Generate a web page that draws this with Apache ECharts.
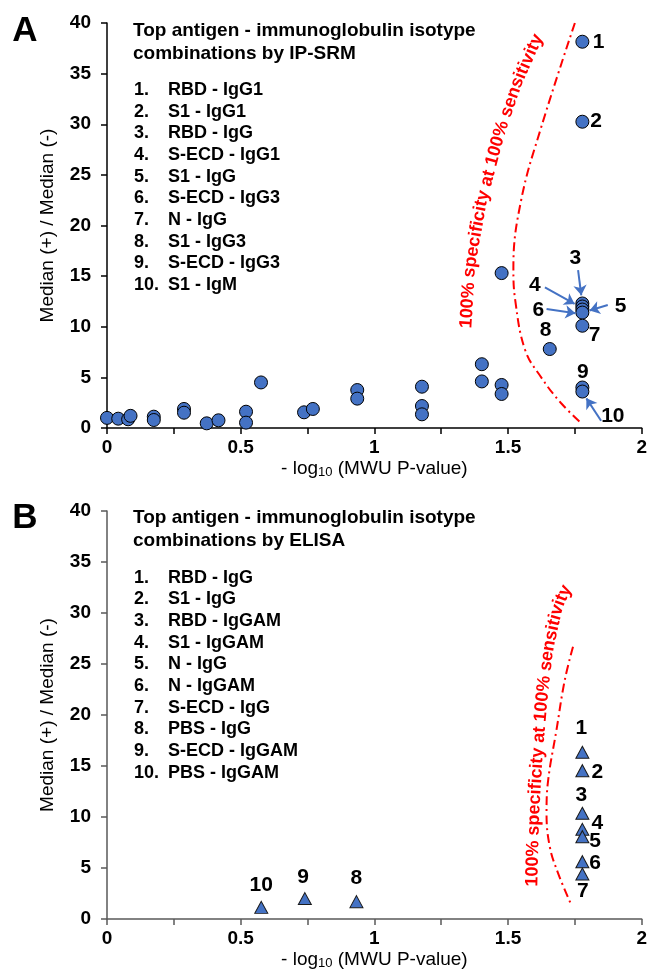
<!DOCTYPE html>
<html>
<head>
<meta charset="utf-8">
<script src="https://cdn.jsdelivr.net/npm/echarts@6/dist/echarts.min.js"></script>
<style>
  html, body { margin: 0; padding: 0; background: #fff; }
  #chart { width: 650px; height: 971px; }
</style>
</head>
<body>
<div id="chart"></div>
<script>
// ---- data ----
// panel A: IP-SRM, circles
var srmX = [0, 0.042, 0.079, 0.088, 0.175, 0.175, 0.288, 0.288, 0.373, 0.417, 0.52, 0.52, 0.576,
  0.737, 0.77, 0.936, 0.936, 1.178, 1.178, 1.178, 1.402, 1.402, 1.476, 1.476, 1.476, 1.656,
  1.778, 1.778, 1.778, 1.778, 1.778, 1.778, 1.778, 1.778, 1.778];
var srmY = [1.0, 0.92, 0.86, 1.2, 1.12, 0.79, 1.88, 1.51, 0.46, 0.76, 1.61, 0.53, 4.5,
  1.55, 1.88, 3.75, 2.9, 4.08, 2.17, 1.35, 6.3, 4.6, 15.3, 4.25, 3.36, 7.8,
  38.15, 30.25, 12.3, 12.0, 11.7, 11.4, 10.1, 4.0, 3.6];
var srmNames = ["RBD - IgG1", "S1 - IgG1", "RBD - IgG", "S-ECD - IgG1", "S1 - IgG",
  "S-ECD - IgG3", "N - IgG", "S1 - IgG3", "S-ECD - IgG3", "S1 - IgM"];
// number tags beside the top ten
var srmTagX = [1.839, 1.829, 1.752, 1.600, 1.921, 1.613, 1.824, 1.640, 1.780, 1.892];
var srmTagY = [38.15, 30.35, 16.76, 14.12, 12.05, 11.65, 9.19, 9.68, 5.56, 1.12];
// arrows [x1, y1, x2, y2]
var srmArrows = [
  [1.762, 15.6, 1.774, 13.1],
  [1.638, 13.9, 1.749, 12.25],
  [1.644, 11.75, 1.752, 11.33],
  [1.873, 12.15, 1.805, 11.6],
  [1.848, 0.72, 1.793, 2.93]
];
// 100% specificity boundary
var srmCurveX = [1.750, 1.624, 1.549, 1.520, 1.527, 1.564, 1.624, 1.698, 1.777];
var srmCurveY = [40.0, 29.7, 22.5, 15.9, 12.6, 7.7, 5.0, 2.47, 0.4];

// panel B: ELISA, triangles
var elisaX = [0.577, 0.74, 0.933, 1.778, 1.778, 1.778, 1.778, 1.778, 1.778, 1.778];
var elisaY = [1.14, 2.0, 1.7, 16.34, 14.54, 10.36, 8.79, 8.07, 5.62, 4.41];
var elisaNames = ["RBD - IgG", "S1 - IgG", "RBD - IgGAM", "S1 - IgGAM", "N - IgG",
  "N - IgGAM", "S-ECD - IgG", "PBS - IgG", "S-ECD - IgGAM", "PBS - IgGAM"];
var elisaTags = ["10", "9", "8", "1", "2", "3", "4", "5", "6", "7"];
var elisaTagX = [0.577, 0.733, 0.933, 1.774, 1.834, 1.774, 1.834, 1.826, 1.826, 1.780];
var elisaTagY = [3.32, 4.07, 3.97, 18.7, 14.44, 12.16, 9.44, 7.58, 5.46, 2.68];
var elisaCurveX = [1.743, 1.712, 1.681, 1.650, 1.644, 1.656, 1.687, 1.737];
var elisaCurveY = [26.7, 23.4, 18.5, 13.6, 10.4, 7.1, 4.5, 1.37];

var xTicks = [0, 0.5, 1, 1.5, 2];
var curveNote = '100% specificity at 100% sensitivity';

var FONT = '"Liberation Sans", Arial, sans-serif';
var BLUE = '#4472C4';

function zip(a, b) {
  return a.map(function (v, i) { return [v, b[i]]; });
}

function makeAxes(gridIndex, axisColor) {
  var x = {
    gridIndex: gridIndex, type: 'value', min: 0, max: 2, interval: 0.25,
    name: '- log{sub|10} (MWU P-value)', nameLocation: 'middle', nameGap: 30,
    nameTextStyle: {
      fontFamily: FONT, fontSize: 19, color: '#000',
      rich: { sub: { fontFamily: FONT, fontSize: 13, color: '#000', padding: [8, 0, 0, 0] } }
    },
    axisLine: { lineStyle: { color: axisColor, width: 1.5 } },
    axisTick: { show: true, length: 6, lineStyle: { color: axisColor, width: 1.5 } },
    axisLabel: {
      margin: 10, fontFamily: FONT, fontSize: 19, fontWeight: 'bold', color: '#000',
      formatter: function (v) {
        for (var i = 0; i < xTicks.length; i++) {
          if (Math.abs(v - xTicks[i]) < 1e-6) return String(xTicks[i]);
        }
        return '';
      }
    },
    splitLine: { show: false }
  };
  var y = {
    gridIndex: gridIndex, type: 'value', min: 0, max: 40, interval: 5,
    name: 'Median (+) / Median (-)', nameLocation: 'middle', nameGap: 50,
    nameTextStyle: { fontFamily: FONT, fontSize: 19, color: '#000' },
    axisLine: { show: true, lineStyle: { color: axisColor, width: 1.5 } },
    axisTick: { show: true, length: 6, lineStyle: { color: axisColor, width: 1.5 } },
    axisLabel: { margin: 16, fontFamily: FONT, fontSize: 19, fontWeight: 'bold', color: '#000' },
    splitLine: { show: false }
  };
  return { x: x, y: y };
}

var axA = makeAxes(0, '#000');
var axB = makeAxes(1, '#595959');

function tagSeries(idx, tags, xs, ys) {
  return {
    type: 'scatter', xAxisIndex: idx, yAxisIndex: idx, silent: true,
    symbolSize: 1, itemStyle: { color: 'rgba(0,0,0,0)', opacity: 1 },
    label: {
      show: true, position: 'inside', formatter: '{b}',
      fontFamily: FONT, fontSize: 21, fontWeight: 'bold', color: '#000', opacity: 1
    },
    data: tags.map(function (t, i) { return { name: t, value: [xs[i], ys[i]] }; }),
    z: 5
  };
}

function curveSeries(idx, xs, ys) {
  return {
    type: 'line', xAxisIndex: idx, yAxisIndex: idx, silent: true,
    showSymbol: false, smooth: 0.4,
    lineStyle: { color: '#FF0000', width: 2, type: [9, 4, 2, 4] },
    data: zip(xs, ys), z: 1
  };
}

var graphics = [];

// list of top combinations, as text
function addPanelText(letter, letterY, title, titleY, names, listY) {
  graphics.push({
    type: 'text', x: 25, y: letterY,
    style: { text: letter, fill: '#000', font: 'bold 35px ' + FONT, align: 'center', verticalAlign: 'middle' }
  });
  graphics.push({
    type: 'text', x: 133, y: titleY,
    style: { text: title, fill: '#000', font: 'bold 19px ' + FONT, lineHeight: 23, verticalAlign: 'middle' }
  });
  names.forEach(function (n, i) {
    var yy = listY + i * 21.67;
    graphics.push({
      type: 'text', x: 134, y: yy,
      style: { text: (i + 1) + '.', fill: '#000', font: 'bold 18px ' + FONT, verticalAlign: 'middle' }
    });
    graphics.push({
      type: 'text', x: 168, y: yy,
      style: { text: n, fill: '#000', font: 'bold 18px ' + FONT, verticalAlign: 'middle' }
    });
  });
}
addPanelText('A', 31, 'Top antigen - immunoglobulin isotype\ncombinations by IP-SRM', 42, srmNames, 90);
addPanelText('B', 518, 'Top antigen - immunoglobulin isotype\ncombinations by ELISA', 529, elisaNames, 577.7);

// red note bent along the boundary: one glyph at a time along a guide path
function textAlongPath(text, pts, font, color) {
  var ctx = document.createElement('canvas').getContext('2d');
  ctx.font = font;
  var cum = [0];
  for (var i = 1; i < pts.length; i++) {
    var dx = pts[i][0] - pts[i - 1][0], dy = pts[i][1] - pts[i - 1][1];
    cum.push(cum[i - 1] + Math.sqrt(dx * dx + dy * dy));
  }
  var total = cum[cum.length - 1];
  var s = (total - ctx.measureText(text).width) / 2;
  for (var k = 0; k < text.length; k++) {
    var ch = text[k];
    var w = ctx.measureText(ch).width;
    var mid = s + w / 2;
    var j = 1;
    while (j < pts.length - 1 && cum[j] < mid) j++;
    var t = (mid - cum[j - 1]) / (cum[j] - cum[j - 1]);
    var p0 = pts[j - 1], p1 = pts[j];
    var px = p0[0] + (p1[0] - p0[0]) * t, py = p0[1] + (p1[1] - p0[1]) * t;
    // blend the tangent with the neighbouring segment for a smoother bend
    var ang = Math.atan2(-(p1[1] - p0[1]), p1[0] - p0[0]);
    if (t > 0.5 && j < pts.length - 1) {
      var a2 = Math.atan2(-(pts[j + 1][1] - p1[1]), pts[j + 1][0] - p1[0]);
      ang = ang + (a2 - ang) * (t - 0.5);
    } else if (t < 0.5 && j > 1) {
      var a0 = Math.atan2(-(p0[1] - pts[j - 2][1]), p0[0] - pts[j - 2][0]);
      ang = ang + (a0 - ang) * (0.5 - t);
    }
    if (ch !== ' ') {
      graphics.push({
        type: 'text', x: px, y: py, rotation: ang,
        style: { text: ch, fill: color, font: font, align: 'center', verticalAlign: 'middle' }
      });
    }
    s += w;
  }
}
textAlongPath(curveNote, [[466, 334], [470, 267], [482, 200], [500, 133], [517, 83], [541, 30]],
  'bold 18px ' + FONT, '#FF0000');
textAlongPath(curveNote, [[532, 900], [534, 820], [537, 765], [542, 703], [548, 650], [558, 606], [573, 574]],
  'bold 18px ' + FONT, '#FF0000');

var myChart = echarts.init(document.getElementById('chart'), null, { renderer: 'canvas' });
myChart.setOption({
  animation: false,
  backgroundColor: '#fff',
  grid: [
    { left: 107, top: 23, width: 537, height: 405 },
    { left: 107, top: 511, width: 536, height: 408 }
  ],
  xAxis: [axA.x, axB.x],
  yAxis: [axA.y, axB.y],
  graphic: graphics,
  series: [
    curveSeries(0, srmCurveX, srmCurveY),
    curveSeries(1, elisaCurveX, elisaCurveY),
    {
      type: 'scatter', xAxisIndex: 0, yAxisIndex: 0, symbol: 'circle', symbolSize: 13,
      itemStyle: { color: BLUE, borderColor: '#000', borderWidth: 1, opacity: 1 },
      data: zip(srmX, srmY), z: 3,
      markLine: {
        silent: true, symbol: ['none', 'arrow'], symbolSize: 10,
        lineStyle: { color: BLUE, width: 2, type: 'solid', opacity: 1 },
        label: { show: false },
        data: srmArrows.map(function (a) { return [{ coord: [a[0], a[1]] }, { coord: [a[2], a[3]] }]; })
      }
    },
    {
      type: 'scatter', xAxisIndex: 1, yAxisIndex: 1, symbol: 'triangle', symbolSize: [13, 12],
      itemStyle: { color: BLUE, borderColor: '#1a1a1a', borderWidth: 1, opacity: 1 },
      data: zip(elisaX, elisaY), z: 3
    },
    tagSeries(0, ['1', '2', '3', '4', '5', '6', '7', '8', '9', '10'], srmTagX, srmTagY),
    tagSeries(1, elisaTags, elisaTagX, elisaTagY)
  ]
});
window.onresize = function () {
  myChart.resize();
};
</script>
</body>
</html>
